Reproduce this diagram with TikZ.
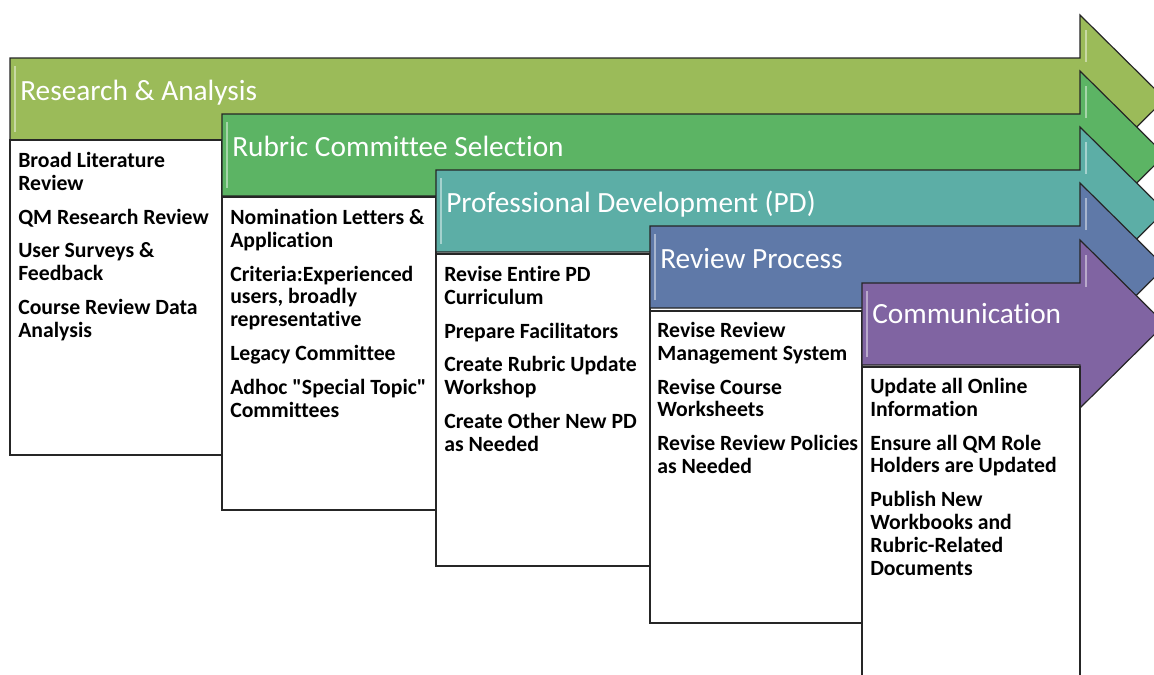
\documentclass[tikz,border=0pt]{standalone}
\usepackage{fontspec}
\setmainfont{Carlito}[Ligatures={TeX,NoCommon}]
\usetikzlibrary{positioning}

\definecolor{stageA}{RGB}{155,187,89}
\definecolor{stageB}{RGB}{92,180,100}
\definecolor{stageC}{RGB}{92,174,166}
\definecolor{stageD}{RGB}{95,121,168}
\definecolor{stageE}{RGB}{128,100,162}

% one chevron-like process arrow: left x, top y, colour
\newcommand{\stagearrow}[3]{%
  \filldraw[arrowshape, fill=#3] (#1,#2) -- (1080,#2) -- (1080,#2-43)
    -- (1165,#2+41) -- (1080,#2+125) -- (1080,#2+82) -- (#1,#2+82) -- cycle;
  \draw[bevel] (#1+5,#2+8) -- (#1+5,#2+74);
  \draw[bevel] (1086,#2-28) -- (1086,#2+4);
}

\begin{document}
\begin{tikzpicture}[x=0.75pt, y=-0.75pt,
  arrowshape/.style={draw=black!85, line width=0.9pt, line join=miter},
  bevel/.style={white, opacity=0.45, line width=2.2pt},
  itembox/.style={draw=black!85, line width=0.9pt, fill=white},
  title/.style={anchor=base west, text=white, inner sep=0pt,
    font=\fontsize{22}{26}\selectfont},
  items/.style={anchor=north west, align=left, inner sep=0pt,
    font=\bfseries\fontsize{16.3}{17.2}\selectfont}
]
  \useasboundingbox (0,0) rectangle (1154,675);
  \clip (0,0) rectangle (1154,675);

  % Research & Analysis
  \stagearrow{10}{58}{stageA}
  \draw[itembox] (10,140) rectangle (222,455);
  \node[title] (t1) at (20,100) {Research \& Analysis};
  \node[items] (b1) at (18,152) {Broad Literature\\Review\\[8pt]
    QM Research Review\\[8pt]
    User Surveys \&\\Feedback\\[8pt]
    Course Review Data\\Analysis};

  % Rubric Committee Selection
  \stagearrow{222}{114}{stageB}
  \draw[itembox] (222,197) rectangle (436,510);
  \node[title] (t2) at (232,156) {Rubric Committee Selection};
  \node[items] (b2) at (230,209) {Nomination Letters \&\\Application\\[8pt]
    Criteria:Experienced\\users, broadly\\representative\\[8pt]
    Legacy Committee\\[8pt]
    Adhoc \textquotedbl Special Topic\textquotedbl\\Committees};

  % Professional Development (PD)
  \stagearrow{436}{170}{stageC}
  \draw[itembox] (436,254) rectangle (650,566);
  \node[title] (t3) at (446,212) {Professional Development (PD)};
  \node[items] (b3) at (444,266) {Revise Entire PD\\Curriculum\\[8pt]
    Prepare Facilitators\\[8pt]
    Create Rubric Update\\Workshop\\[8pt]
    Create Other New PD\\as Needed};

  % Review Process
  \stagearrow{650}{226}{stageD}
  \draw[itembox] (650,311) rectangle (862,623);
  \node[title] (t4) at (660,268) {Review Process};
  \node[items] (b4) at (657,322) {Revise Review\\Management System\\[8pt]
    Revise Course\\Worksheets\\[8pt]
    Revise Review Policies\\as Needed};

  % Communication
  \stagearrow{862}{283}{stageE}
  \draw[itembox] (862,367) rectangle (1080,690);
  \node[title] (t5) at (872,323) {Communication};
  \node[items] (b5) at (870,378) {Update all Online\\Information\\[8pt]
    Ensure all QM Role\\Holders are Updated\\[8pt]
    Publish New\\Workbooks and\\Rubric-Related\\Documents};
\end{tikzpicture}
\end{document}
